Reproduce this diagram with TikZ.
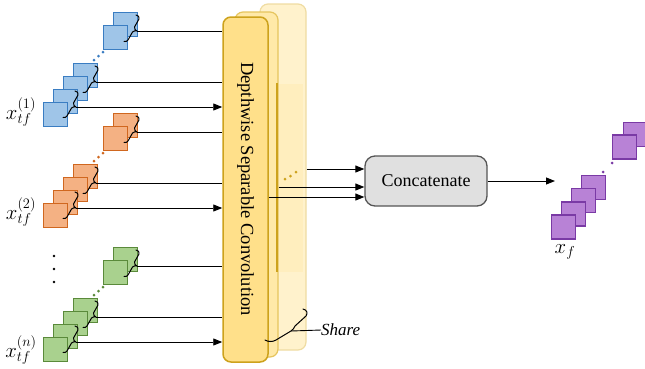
\documentclass[tikz,border=0pt]{standalone}
\usepackage{fontspec}
\setmainfont{Liberation Serif}
\usetikzlibrary{arrows.meta}

\definecolor{bluefill}{HTML}{9FC5E8}
\definecolor{bluedraw}{HTML}{3A7DC2}
\definecolor{orangefill}{HTML}{F4B183}
\definecolor{orangedraw}{HTML}{D0671F}
\definecolor{greenfill}{HTML}{A9D18E}
\definecolor{greendraw}{HTML}{5A8A3A}
\definecolor{purplefill}{HTML}{B882D6}
\definecolor{purpledraw}{HTML}{7A3AA5}
\definecolor{convfill}{HTML}{FFE08A}
\definecolor{convdraw}{HTML}{CDA21C}
\definecolor{convfillb}{HTML}{FFE9A8}
\definecolor{convdrawb}{HTML}{E6C55E}
\definecolor{convfillc}{HTML}{FFF2CC}
\definecolor{convdrawc}{HTML}{EFDCA2}
\definecolor{catfill}{HTML}{E0E0E0}
\definecolor{catdraw}{HTML}{555555}

\tikzset{
  sq/.style={rectangle,minimum size=24pt,inner sep=0pt,line width=1.2pt},
  brc/.style={line width=1pt,line join=round,line cap=round},
  link/.style={line width=0.9pt},
  arr/.style={line width=0.9pt,-{Triangle[length=9pt,width=7pt]}},
  dot/.style={circle,inner sep=0pt,minimum size=3pt},
  lbl/.style={inner sep=0pt,font=\fontsize{21}{22}\selectfont},
  % slanted curly bracket grouping two stacked tensors; its tip is at (1,16)
  tfbrace/.pic={
    \draw[brc] (0,0) .. controls +(3,0) and +(0,-2) .. ++(3,4)
      -- ++(-4.5,8)
      .. controls +(-0.8,1.5) and +(-1,0) .. ++(2.5,4)
      .. controls +(-1,0) and +(0.8,-1.5) .. ++(-4.5,1)
      -- ++(-4.5,8)
      .. controls +(-1,1.5) and +(2,0) .. ++(-4,1.5);
  },
}

% one group of input tensors: #1 prefix, #2 vertical offset, #3 fill, #4 stroke
\newcommand\tfgroup[4]{%
  \begin{scope}[shift={(0,#2)}]
    \node[sq,fill=#3,draw=#4] (#1p2) at (125.5,24.5) {};
    \node[sq,fill=#3,draw=#4] (#1p1) at (115.5,37.5) {};
    \node[dot,fill=#4] (#1d3) at (103,52) {};
    \node[dot,fill=#4] (#1d2) at (98.5,56) {};
    \node[dot,fill=#4] (#1d1) at (94,60) {};
    \node[sq,fill=#3,draw=#4] (#1s4) at (85.5,75.5) {};
    \node[sq,fill=#3,draw=#4] (#1s3) at (75.5,88.5) {};
    \node[sq,fill=#3,draw=#4] (#1s2) at (65.5,101.5) {};
    \node[sq,fill=#3,draw=#4] (#1s1) at (55.5,114.5) {};
    \pic at (136,15) {tfbrace};
    \pic at (95,66) {tfbrace};
    \pic at (75,91) {tfbrace};
    \coordinate (#1t1) at (137,31);
    \coordinate (#1t2) at (96,82);
    \coordinate (#1t3) at (76,107);
  \end{scope}%
}

\begin{document}
\begin{tikzpicture}[x=1pt,y=-1pt]
\useasboundingbox (0,0) rectangle (645,368);

% stacked convolution blocks (back to front)
\node[rectangle,rounded corners=8pt,minimum width=46pt,minimum height=346pt,
      fill=convfillc,draw=convdrawc,line width=1.2pt] (dsc3) at (283,177) {};
\fill[convfillb!40!convfillc] (278,84) rectangle (303,272);
\node[rectangle,rounded corners=8pt,minimum width=43pt,minimum height=345pt,
      fill=convfillb,draw=convdrawb,line width=1.2pt] (dsc2) at (256.5,184.5) {};
\draw[convdraw,line width=2.2pt] (277,83) -- (277,272);
\node[rectangle,rounded corners=8pt,minimum width=45pt,minimum height=345pt,
      fill=convfill,draw=convdraw,line width=1.5pt] (dsc) at (245.5,189.5) {};
\node[rotate=-90,font=\fontsize{18.5}{20}\selectfont] (dsctext) at (245.5,189) {Depthwise Separable Convolution};

% input tensor groups
\tfgroup{a}{0}{bluefill}{bluedraw}
\tfgroup{b}{101}{orangefill}{orangedraw}
\tfgroup{c}{235}{greenfill}{greendraw}

\foreach \g in {a,b,c}{
  \draw[link] (\g t1) -- (\g t1 -| dsc.west);
  \draw[link] (\g t2) -- (\g t2 -| dsc.west);
  \draw[arr] (\g t3) -- (\g t3 -| dsc.west);
}

% labels of the inputs
\node[lbl] (la) at (21,112) {$x_{tf}^{(1)}$};
\node[lbl] (lb) at (21,212) {$x_{tf}^{(2)}$};
\node[lbl] (lc) at (21,350) {$x_{tf}^{(n)}$};
\node[dot,minimum size=2.8pt,fill=black] (v1) at (54,256) {};
\node[dot,minimum size=2.8pt,fill=black] (v2) at (54,269) {};
\node[dot,minimum size=2.8pt,fill=black] (v3) at (54,282) {};

% shared weights
\draw[brc] (303,309) .. controls (307,310) and (308,313) .. (306,316)
  -- (295,326) .. controls (294,328) and (293,330) .. (291,331)
  -- (276,340) .. controls (273,342) and (268,342) .. (265,340);
\coordinate (sh) at (291,331);
\node[anchor=west,inner sep=0pt,font=\fontsize{17}{18}\selectfont\itshape] (share) at (321,330) {Share};
\draw[link] (sh) -- (share.west);

% concatenation
\node[rectangle,rounded corners=10pt,minimum width=122pt,minimum height=50pt,
      fill=catfill,draw=catdraw,line width=1.3pt,font=\fontsize{18}{20}\selectfont] (cat) at (426,181) {Concatenate};
\coordinate (o1) at (dsc3.east |- 0,169);
\coordinate (o2) at (dsc2.east |- 0,187);
\coordinate (o3) at (dsc.east |- 0,197);
\draw[arr] (o1) -- (o1 -| cat.west);
\draw[arr] (o2) -- (o2 -| cat.west);
\draw[arr] (o3) -- (o3 -| cat.west);
\node[dot,fill=convdraw] (e1) at (285,179) {};
\node[dot,fill=convdraw] (e2) at (290.5,176) {};
\node[dot,fill=convdraw] (e3) at (296,172) {};

% fused output
\node[sq,fill=purplefill,draw=purpledraw] (q6) at (635.5,134.5) {};
\node[sq,fill=purplefill,draw=purpledraw] (q5) at (624.5,147) {};
\node[dot,fill=purpledraw] (qd2) at (612,163) {};
\node[dot,fill=purpledraw] (qd1) at (603,172) {};
\node[sq,fill=purplefill,draw=purpledraw] (q4) at (593.5,187.5) {};
\node[sq,fill=purplefill,draw=purpledraw] (q3) at (583.5,200.5) {};
\node[sq,fill=purplefill,draw=purpledraw] (q2) at (573.5,214) {};
\node[sq,fill=purplefill,draw=purpledraw] (q1) at (563.5,227) {};
\coordinate (qin) at (cat.east -| 555,0);
\draw[arr] (cat.east) -- (qin);
\node[lbl] (lf) at (565,252) {$x_f$};
\end{tikzpicture}
\end{document}
